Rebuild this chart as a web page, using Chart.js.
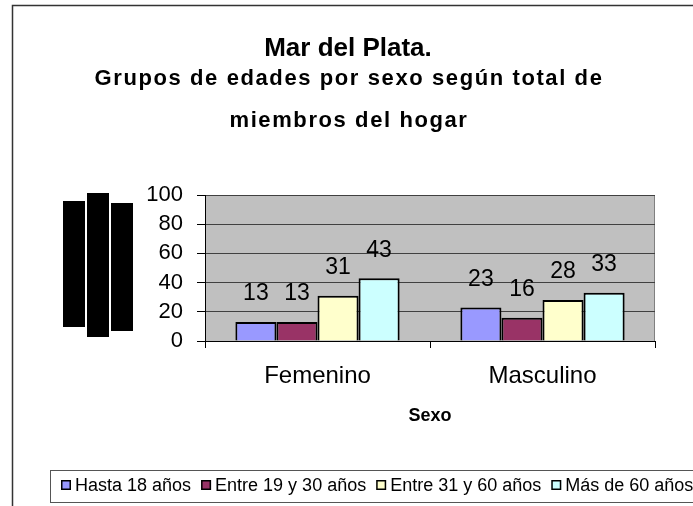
<!DOCTYPE html>
<html>
<head>
<meta charset="utf-8">
<script src="https://cdn.jsdelivr.net/npm/chart.js@4.4.1/dist/chart.umd.min.js"></script>
<style>
  html, body { margin: 0; padding: 0; background: #fff; overflow: hidden; }
  canvas { display: block; }
</style>
</head>
<body>
<canvas id="chart" width="693" height="506"></canvas>
<script>
// data
const categories = ["Femenino", "Masculino"];
const seriesNames = ["Hasta 18 años", "Entre 19 y 30 años", "Entre 31 y 60 años", "Más de 60 años"];
const hasta18 = [13, 23];
const entre19y30 = [13, 16];
const entre31y60 = [31, 28];
const masDe60 = [43, 33];
const yMin = 0, yMax = 100, yStep = 20;
const titleText = "Mar del Plata.";
const subtitleLines = ["Grupos de edades por sexo según total de", "miembros del hogar"];
const xTitle = "Sexo";

const seriesColors = ["#9999FF", "#993366", "#FFFFCC", "#CCFFFF"];
const FONT = "'Liberation Sans', Arial, sans-serif";

const excelLook = {
  id: "excelLook",
  beforeDraw(chart) {
    const { ctx, chartArea: a } = chart;
    ctx.save();
    // outer frame, right and bottom edges run past the window
    ctx.strokeStyle = "#333";
    ctx.lineWidth = 1.5;
    ctx.strokeRect(12.5, 5.5, 1000, 1000);
    // grey plot area
    ctx.fillStyle = "#C0C0C0";
    ctx.fillRect(a.left, a.top, a.right - a.left, a.bottom - a.top);
    ctx.strokeStyle = "#808080";
    ctx.lineWidth = 1;
    ctx.strokeRect(a.left + 0.5, a.top + 0.5, a.right - a.left - 1, a.bottom - a.top);
    ctx.restore();
  },
  afterDatasetsDraw(chart) {
    const { ctx } = chart;
    ctx.save();
    ctx.font = "23px " + FONT;
    ctx.fillStyle = "#000";
    ctx.textAlign = "center";
    ctx.textBaseline = "middle";
    chart.data.datasets.forEach((ds, i) => {
      chart.getDatasetMeta(i).data.forEach((bar, j) => {
        ctx.fillText(String(ds.data[j]), bar.x, bar.y - 28);
      });
    });
    ctx.restore();
  },
  afterDraw(chart) {
    const { ctx } = chart;
    ctx.save();
    ctx.fillStyle = "#000";
    ctx.textAlign = "center";
    ctx.textBaseline = "alphabetic";
    ctx.font = "bold 26px " + FONT;
    ctx.fillText(titleText, 348, 56);
    ctx.font = "bold 22px " + FONT;
    ctx.letterSpacing = "1.6px";
    ctx.fillText(subtitleLines[0], 349, 85);
    ctx.fillText(subtitleLines[1], 349, 126.5);
    ctx.letterSpacing = "0px";

    // y-axis title comes out as solid black blocks in the original
    ctx.fillRect(63, 201, 22, 126);
    ctx.fillRect(87, 193, 22, 144);
    ctx.fillRect(111, 203, 22, 128);

    // legend strip, cut off at the right edge
    ctx.strokeStyle = "#555";
    ctx.lineWidth = 1;
    ctx.strokeRect(50.5, 470.5, 1000, 32);
    ctx.font = "18px " + FONT;
    ctx.textAlign = "left";
    let x = 61;
    chart.data.datasets.forEach(ds => {
      ctx.fillStyle = ds.backgroundColor;
      ctx.fillRect(x, 480, 10, 10);
      ctx.strokeStyle = "#000";
      ctx.lineWidth = 1.5;
      ctx.strokeRect(x + 0.75, 480.75, 8.5, 8.5);
      ctx.fillStyle = "#000";
      ctx.fillText(ds.label, x + 14, 491);
      x += 14 + ctx.measureText(ds.label).width + 10;
    });
    ctx.restore();
  }
};

new Chart(document.getElementById("chart"), {
  type: "bar",
  data: {
    labels: categories,
    datasets: [hasta18, entre19y30, entre31y60, masDe60].map((values, i) => ({
      label: seriesNames[i],
      data: values,
      backgroundColor: seriesColors[i],
      borderColor: "#000",
      borderWidth: 2,
      categoryPercentage: 0.73,
      barPercentage: 1
    }))
  },
  options: {
    responsive: false,
    animation: false,
    devicePixelRatio: 1,
    layout: { padding: { top: 195, right: 38, bottom: 64.8, left: 0 } },
    plugins: {
      legend: { display: false },
      tooltip: { enabled: false },
      title: { display: false }
    },
    scales: {
      x: {
        grid: { drawOnChartArea: false, tickLength: 7, color: "#000", offset: true },
        border: { color: "#000", width: 1 },
        ticks: { color: "#000", font: { family: FONT, size: 24 }, padding: 14 },
        title: {
          display: true,
          text: xTitle,
          color: "#000",
          font: { family: FONT, size: 18, weight: "bold" },
          padding: { top: 0, bottom: 14 }
        },
        afterFit(scale) { scale.height = 100.2; }
      },
      y: {
        min: yMin,
        max: yMax,
        ticks: { stepSize: yStep, autoSkip: false, color: "#000", font: { family: FONT, size: 22 }, padding: 14 },
        grid: { color: "#404040", tickLength: 8, tickColor: "#000" },
        border: { color: "#000", width: 1 },
        afterFit(scale) { scale.width = 205; }
      }
    }
  },
  plugins: [excelLook]
});
</script>
</body>
</html>
